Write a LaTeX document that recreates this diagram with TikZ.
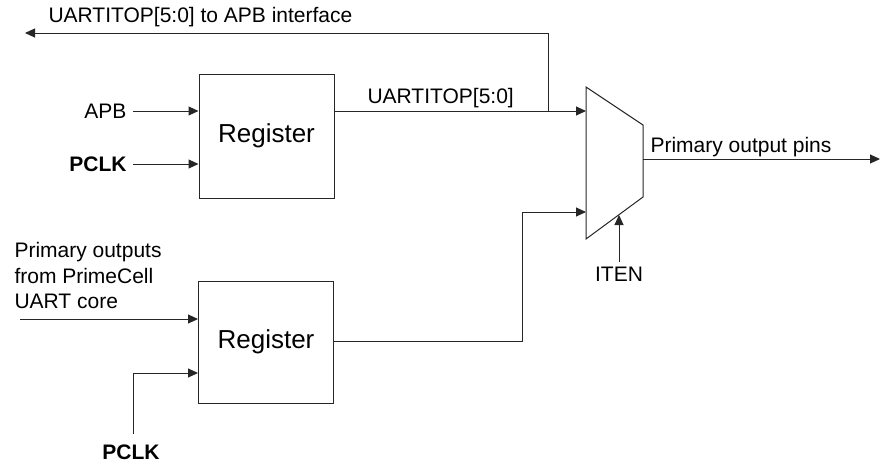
\documentclass[tikz,border=0pt]{standalone}
\usepackage{fontspec}
\setmainfont{Liberation Sans}
\usetikzlibrary{arrows.meta}
\begin{document}
\begin{tikzpicture}[x=1pt,y=-1pt,
  line width=1pt, draw=black!85,
  >={Triangle[length=10pt,width=9pt]},
  lab/.style={font=\fontsize{21}{25.5}\selectfont, inner sep=0pt, text=black},
  boldlab/.style={lab, font=\fontsize{21}{25.5}\selectfont\bfseries},
  regbox/.style={draw=black!85, minimum width=135pt, inner sep=0pt,
    font=\fontsize{26}{30}\selectfont},
  wire/.style={draw=black!85, line width=1pt},
  arr/.style={wire, ->}]
\useasboundingbox (0,0) rectangle (891,466);

% registers
\node[regbox, minimum height=124pt] (reg1) at (266.5,136) {Register};
\node[regbox, minimum height=122pt] (reg2) at (266,342) {Register};

% mux
\coordinate (m1) at (586,87);
\coordinate (m2) at (643,125);
\coordinate (m3) at (643,197);
\coordinate (m4) at (586,239);
\draw[wire] (m1) -- (m2) -- (m3) -- (m4) -- cycle;
\coordinate (muxA) at (586,111);
\coordinate (muxB) at (586,212);
\coordinate (muxO) at (643,159);
\coordinate (muxS) at (619,215);

% labels
\node[lab, anchor=east] (apb) at (127,111) {APB};
\node[boldlab, anchor=east] (pclk1) at (127,164) {PCLK};
\node[lab, anchor=base west] (topl) at (48,22) {UARTITOP[5:0] to APB interface};
\node[lab, anchor=base west] (uo) at (367,103) {UARTITOP[5:0]};
\node[lab, anchor=base west] (pop) at (650,152) {Primary output pins};
\node[lab, anchor=north] (iten) at (619,267) {ITEN};
\node[lab, anchor=north west, align=left] (core) at (14,242)
  {Primary outputs\\from PrimeCell\\UART core};
\node[boldlab, anchor=north] (pclk2) at (131,444) {PCLK};

% free ends and bends
\coordinate (tap) at (548,111);
\coordinate (tapup) at (548,33);
\coordinate (topend) at (25,33);
\coordinate (outend) at (880,159);
\coordinate (corein) at (20,319);
\coordinate (pclk2top) at (133,434);
\coordinate (pclk2in) at (198,373);
\coordinate (reg2out) at (333,341);
\coordinate (bend) at (522,212);
\coordinate (itenb) at (619,262);

% connectors
\draw[arr, shorten <=6pt] (apb.east) -- (reg1.west |- apb.east);
\draw[arr, shorten <=6pt] (pclk1.east) -- (reg1.west |- pclk1.east);
\draw[arr] (reg1.east |- muxA) -- (muxA);
\draw[arr] (tap) -- (tapup) -- (topend);
\draw[arr] (muxO) -- (outend);
\draw[arr] (corein) -- (reg2.west |- corein);
\draw[arr] (pclk2top) |- (pclk2in);
\draw[arr] (reg2out) -| (bend) -- (muxB);
\draw[arr] (itenb) -- (muxS);
\end{tikzpicture}
\end{document}
